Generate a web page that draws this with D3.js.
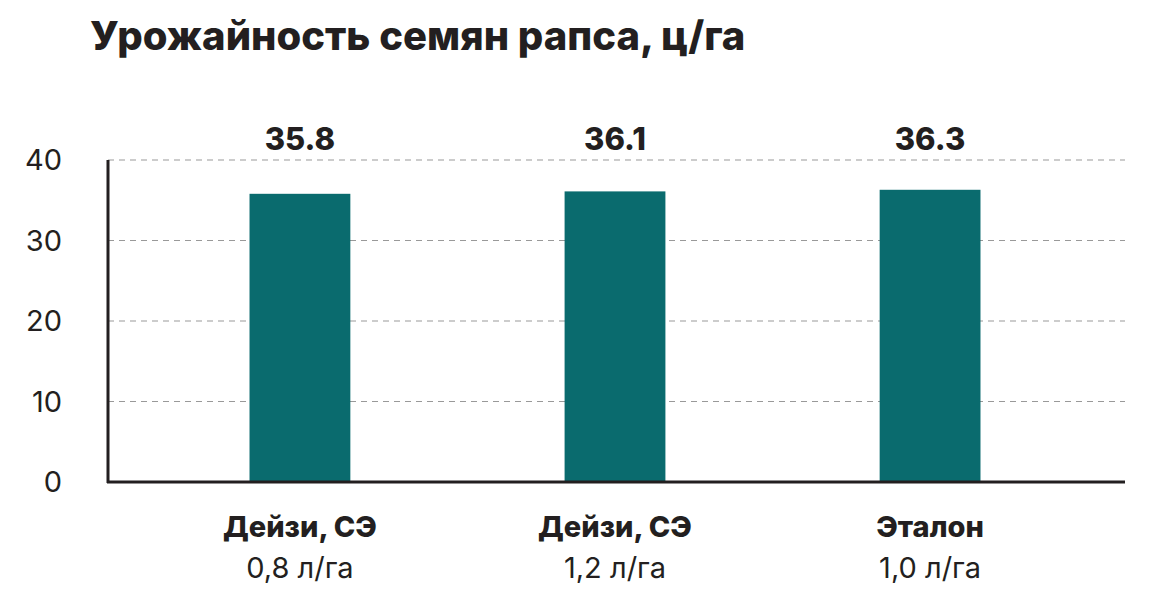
<!DOCTYPE html>
<html><head><meta charset="utf-8">
<script src="https://cdn.jsdelivr.net/npm/d3@7"></script>
<style>body{margin:0;background:#fff;}text{font-family:Inter,"Open Sans",sans-serif;fill:#231f20;}</style>
</head><body><svg id="c" width="1174" height="608"></svg>
<script>
const categories = ["Дейзи, СЭ","Дейзи, СЭ","Эталон"];
const doses = ["0,8 л/га","1,2 л/га","1,0 л/га"];
const values = [35.8, 36.1, 36.3];
const ticks = [0,10,20,30,40];

const svg = d3.select("#c");
const x0 = 108, x1 = 1125, yB = 482, yT = 160;
const x = d3.scaleBand().domain(d3.range(values.length)).range([155, 1075]).paddingInner(0.68).paddingOuter(0.3);
const y = d3.scaleLinear().domain([0,40]).range([yB,yT]);

svg.append("text").attr("x",90).attr("y",50).attr("font-size",40).attr("font-weight",800).text("Урожайность семян рапса, ц/га");

svg.selectAll(".g").data(ticks.filter(t=>t>0)).join("line")
  .attr("x1",x0).attr("x2",x1).attr("y1",d=>y(d)).attr("y2",d=>y(d))
  .attr("stroke","#999").attr("stroke-dasharray","6,5").attr("stroke-width",1);
svg.selectAll(".t").data(ticks).join("text")
  .attr("x",62).attr("y",d=>y(d)+10).attr("text-anchor","end").attr("font-size",29).text(d=>d);

svg.selectAll(".b").data(values).join("rect")
  .attr("x",(d,i)=>x(i)).attr("width",x.bandwidth()).attr("y",d=>y(d)).attr("height",d=>yB-y(d)).attr("fill","#0a6b6e");
svg.selectAll(".v").data(values).join("text")
  .attr("x",(d,i)=>x(i)+x.bandwidth()/2).attr("y",150).attr("text-anchor","middle")
  .attr("font-size",31).attr("font-weight",800).text(d=>d.toFixed(1));

svg.append("line").attr("x1",x0).attr("x2",x0).attr("y1",yT).attr("y2",yB+1).attr("stroke","#231f20").attr("stroke-width",3);
svg.append("line").attr("x1",x0-1).attr("x2",x1).attr("y1",yB).attr("y2",yB).attr("stroke","#231f20").attr("stroke-width",3);

svg.selectAll(".c").data(categories).join("text")
  .attr("x",(d,i)=>x(i)+x.bandwidth()/2).attr("y",537).attr("text-anchor","middle")
  .attr("font-size",29).attr("font-weight",800).text(d=>d);
svg.selectAll(".d").data(doses).join("text")
  .attr("x",(d,i)=>x(i)+x.bandwidth()/2).attr("y",578).attr("text-anchor","middle")
  .attr("font-size",29).text(d=>d);
</script></body></html>
